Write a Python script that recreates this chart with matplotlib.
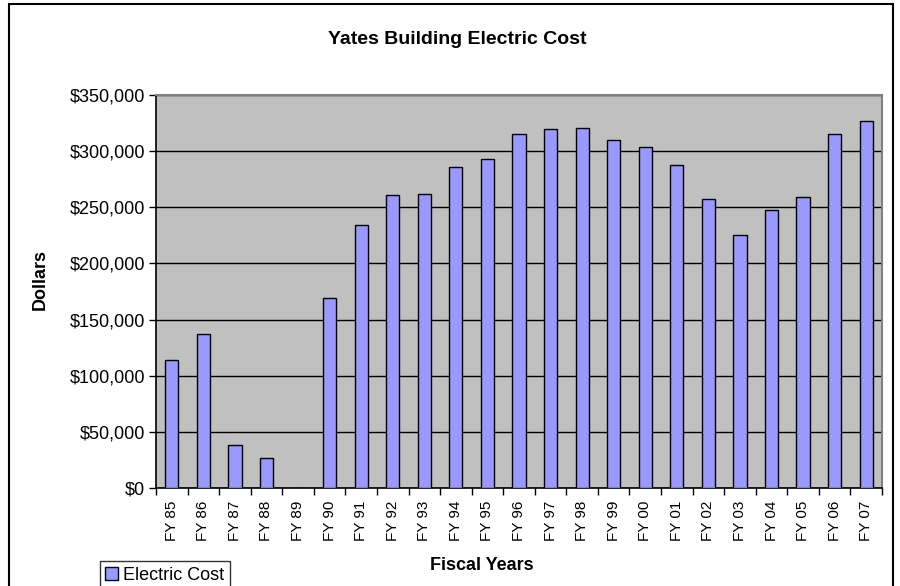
import numpy as np
import matplotlib
matplotlib.use("Agg")
import matplotlib.pyplot as plt
from matplotlib.patches import Rectangle
from matplotlib.ticker import FuncFormatter, MultipleLocator

plt.rcParams['font.family'] = ['Liberation Sans', 'DejaVu Sans']

# data
years = ["FY 85", "FY 86", "FY 87", "FY 88", "FY 89", "FY 90", "FY 91", "FY 92",
         "FY 93", "FY 94", "FY 95", "FY 96", "FY 97", "FY 98", "FY 99", "FY 00",
         "FY 01", "FY 02", "FY 03", "FY 04", "FY 05", "FY 06", "FY 07"]
electric_cost = [114000, 137000, 38000, 26500, 0, 169500, 234500, 261000,
                 262000, 285500, 293000, 315500, 319500, 320500, 310000, 304000,
                 288000, 257500, 225000, 248000, 259000, 315000, 326500]

fig = plt.figure(figsize=(9, 5.86), dpi=100)
W, H = 900, 586
ax = fig.add_axes([156 / W, 1 - 488 / H, (882 - 156) / W, (488 - 95) / H])

# outer chart frame
fig.patches.append(Rectangle((9 / W, -0.05), (893 - 9) / W, 1.05 - 4 / H,
                             transform=fig.transFigure, fill=False,
                             edgecolor='black', lw=1.5, clip_on=False))

x = np.arange(len(years))
ax.set_facecolor('#C0C0C0')
ax.bar(x, electric_cost, width=0.42, color='#9999FF', edgecolor='black',
       linewidth=1.0, zorder=3, label='Electric Cost')

ax.set_xlim(-0.5, len(years) - 0.5)
ax.set_ylim(0, 350000)
ax.yaxis.set_major_locator(MultipleLocator(50000))
ax.yaxis.set_major_formatter(FuncFormatter(lambda v, p: '${:,.0f}'.format(v)))
ax.grid(axis='y', color='black', lw=1, zorder=1)

ax.set_xticks(x)
ax.set_xticklabels(years, rotation=90, fontsize=11)
ax.set_xticks(np.arange(-0.5, len(years)), minor=True)
ax.tick_params(axis='x', which='major', length=0, pad=9)
ax.tick_params(axis='x', which='minor', length=5, width=1, direction='out')
ax.tick_params(axis='y', length=5, width=1, direction='out', labelsize=13, pad=3)

for s in ['top', 'right']:
    ax.spines[s].set_color('#808080')
    ax.spines[s].set_linewidth(1.5)
for s in ['left', 'bottom']:
    ax.spines[s].set_color('black')
    ax.spines[s].set_linewidth(1.2)

fig.text(457 / W, 1 - 40 / H, 'Yates Building Electric Cost', ha='center',
         va='center', fontsize=14, fontweight='bold')
fig.text(482 / W, 1 - 565 / H, 'Fiscal Years', ha='center', va='center',
         fontsize=13, fontweight='bold')
fig.text(40 / W, 1 - 280 / H, 'Dollars', ha='center', va='center',
         rotation=90, fontsize=13, fontweight='bold')

leg = fig.legend(loc='lower left', bbox_to_anchor=(100 / W, -3 / H),
                 fontsize=13, frameon=True, fancybox=False, handlelength=0.7,
                 handleheight=0.7, handletextpad=0.3, borderpad=0.3,
                 borderaxespad=0)
leg.get_frame().set_edgecolor('black')
leg.get_frame().set_linewidth(1)

fig.savefig('out.png', dpi=100)
